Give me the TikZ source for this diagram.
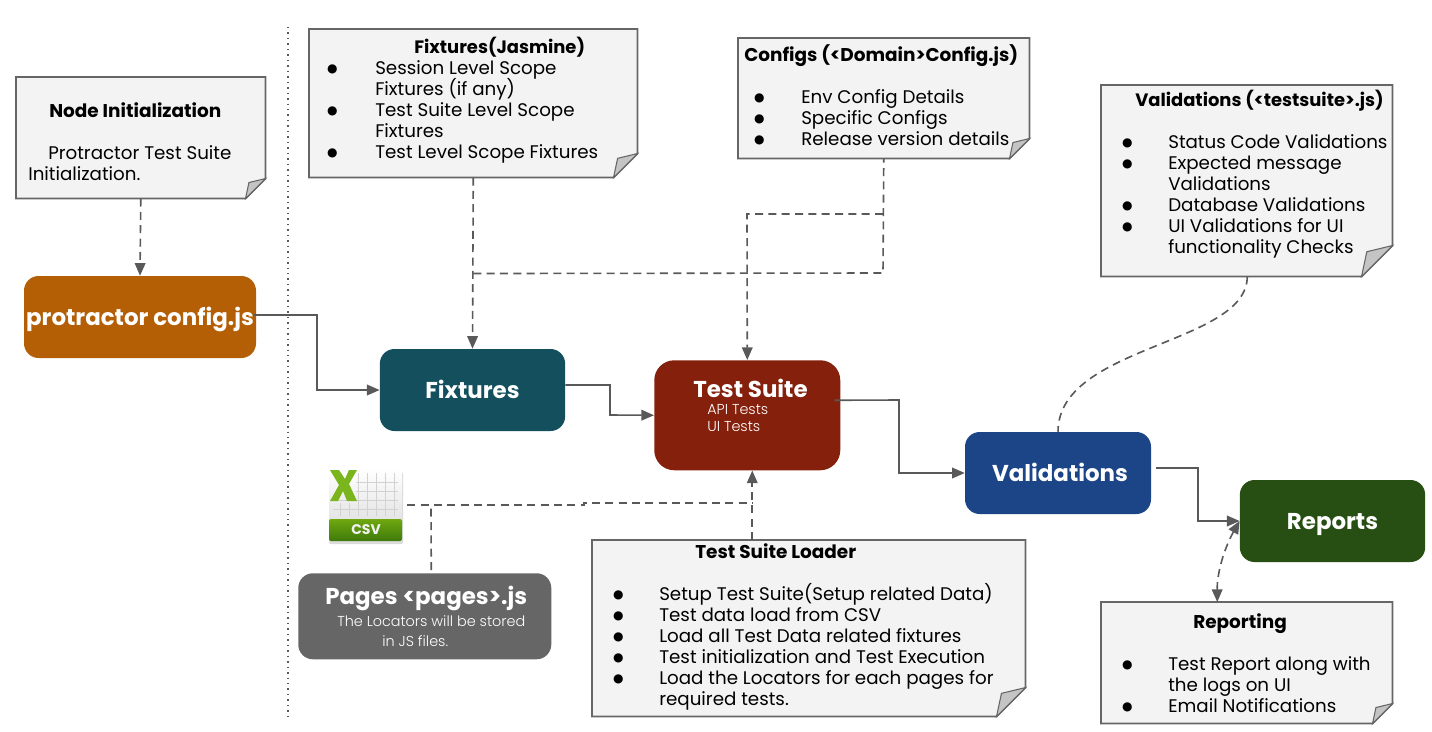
\documentclass[tikz,border=0pt]{standalone}
\usepackage{fontspec}
\setmainfont{Poppins}
\newfontfamily\lightf{Poppins}[UprightFont=* Light]
\newfontfamily\bulf{DejaVu Sans}
\usetikzlibrary{arrows.meta,backgrounds,calc}
\lineskiplimit=-100pt
\definecolor{linec}{HTML}{595959}
\definecolor{notef}{HTML}{F3F3F3}
\definecolor{notel}{HTML}{666666}
\definecolor{foldc}{HTML}{C4C4C4}
\definecolor{cproto}{HTML}{B45F06}
\definecolor{cfixt}{HTML}{134F5C}
\definecolor{cvali}{HTML}{1C4587}
\definecolor{crepo}{HTML}{274E13}
\definecolor{csuite}{HTML}{85200C}
\definecolor{cpages}{HTML}{666666}
\definecolor{xgreen}{HTML}{7AB51D}
\definecolor{bandtop}{HTML}{6FA80F}
\definecolor{bandbot}{HTML}{3E7A0C}
\newcommand\pxl[1]{\dimexpr #1pt*3/4\relax}
\newcommand\txl[2]{\makebox[0pt][l]{\hspace*{\pxl{#1}}#2}\par}
\newcommand\ttl{\fontsize{13.85}{15.75}\selectfont\bfseries}
\newcommand\ttls{\fontsize{13.45}{15.75}\selectfont\bfseries}
\newcommand\bul[3]{\makebox[0pt][l]{\hspace*{\pxl{#1}}\makebox[0pt][c]{\raisebox{1.2pt}{\bulf\fontsize{9}{10}\selectfont ●}}}\makebox[0pt][l]{\hspace*{\pxl{#2}}#3}\par}
\newcommand\blankl{\mbox{}\par}
% name, x, y, w, h, fold, first baseline offset, content
\newcommand\notebox[8]{%
  \node[notetext] (#1) at (#2,#3) {\begin{minipage}[t][\pxl{#5}][t]{\pxl{#4}}\rule{0pt}{\pxl{#7}}\makebox[0pt]{}#8\end{minipage}};
  \begin{pgfonlayer}{background}
    \draw[noteline,fill=notef] (#1.north west) -- (#1.north east) -- ($(#1.south east)+(0,-#6)$) -- ($(#1.south east)+(-#6,0)$) -- (#1.south west) -- cycle;
    \draw[noteline,line width=.8pt,fill=foldc] ($(#1.south east)+(0,-#6)$) .. controls ($(#1.south east)+(-.4*#6,-.92*#6)$) .. ($(#1.south east)+(-.83*#6,-.8*#6)$) .. controls ($(#1.south east)+(-.9*#6,-.4*#6)$) .. ($(#1.south east)+(-#6,0)$) -- cycle;
  \end{pgfonlayer}}
\tikzset{
  x=.75pt,y=-.75pt,
  notetext/.style={anchor=north west,inner sep=0pt,text=black,font=\fontsize{13.7}{15.75}\selectfont},
  noteline/.style={draw=notel,line width=1.3pt,line join=miter},
  rbox/.style={rounded corners=11pt,inner sep=0pt,text=white,font=\fontsize{17.2}{20}\selectfont\bfseries},
  rsingle/.style={rbox,minimum height=61.5pt,text height=12pt,text depth=0pt},
  flow/.style={draw=linec,line width=1.2pt,-{Triangle[length=9.5pt,width=8pt]}},
  dashln/.style={draw=linec,line width=1.2pt,dash pattern=on 6pt off 4pt},
  dasharrow/.style={dashln,-{Triangle[length=9.5pt,width=8pt]}}
}
\begin{document}
\begin{tikzpicture}
\useasboundingbox (0,0) rectangle (1432,732);
\begin{pgfonlayer}{background}
\fill[white] (0,0) rectangle (1432,732);
\end{pgfonlayer}
\draw[linec,line width=1.1pt,dash pattern=on 1.1pt off 3pt] (288,27) -- (288,716);

\notebox{ninit}{16}{77}{249}{121}{20}{40}{\txl{33}{\ttl Node Initialization}\blankl\txl{32}{Protractor Test Suite}\txl{12}{Initialization.}}
\notebox{fixnote}{309}{29}{328}{148}{24}{24}{\txl{105}{\ttls Fixtures(Jasmine)}\bul{23}{66}{Session Level Scope}\vspace{\dimexpr-2pt*3/4\relax}\txl{66}{Fixtures (if any)}\bul{23}{66}{Test Suite Level Scope}\txl{66}{Fixtures}\bul{23}{66}{Test Level Scope Fixtures}}
\notebox{confnote}{738}{38}{291}{120}{20}{23}{\txl{6}{\ttl Configs (<Domain>Config.js)}\blankl\bul{21}{63}{Env Config Details}\bul{21}{63}{Specific Configs}\bul{21}{63}{Release version details}}
\notebox{valnote}{1101}{85}{291}{191}{31}{21}{\txl{34}{\ttls Validations (<testsuite>.js)}\blankl\bul{26}{67}{Status Code Validations}\bul{26}{67}{Expected message}\txl{67}{Validations}\bul{26}{67}{Database Validations}\bul{26}{67}{UI Validations for UI}\txl{67}{functionality Checks}}
\notebox{loadnote}{592}{540}{433}{176}{29}{18}{\txl{103}{\ttl Test Suite Loader}\blankl\bul{26}{67}{Setup Test Suite(Setup related Data)}\bul{26}{67}{Test data load from CSV}\bul{26}{67}{Load all Test Data related fixtures}\bul{26}{67}{Test initialization and Test Execution}\bul{26}{67}{Load the Locators for each pages for}\txl{67}{required tests.}}
\notebox{repnote}{1101}{602}{291}{121}{20}{26}{\txl{92}{\ttl Reporting}\blankl\bul{26}{67}{Test Report along with}\txl{67}{the logs on UI}\bul{26}{67}{Email Notifications}}

\node[rsingle,fill=cproto,minimum width=174pt] (proto) at (140,317) {protractor config.js};
\node[rsingle,fill=cfixt,minimum width=139pt] (fixt) at (472.5,390) {Fixtures};
\node[rsingle,fill=cvali,minimum width=139.5pt] (vali) at (1058,473) {\hspace*{3pt}Validations};
\node[rsingle,fill=crepo,minimum width=139pt] (repo) at (1332.5,521) {Reports};
\node[rbox,fill=csuite,rounded corners=15pt,anchor=north west] (suite) at (654,360) {\begin{minipage}[t][\pxl{110}][t]{\pxl{186}}\rule{0pt}{\pxl{37}}\makebox[0pt][l]{\hspace*{\pxl{39}}Test Suite}\par\mdseries\lightf\fontsize{10.8}{12.8}\selectfont\txl{53}{API Tests}\txl{53}{UI Tests}\end{minipage}};
\node[rbox,fill=cpages,anchor=north west] (pages) at (298,573) {\begin{minipage}[t][\pxl{86}][t]{\pxl{253}}\rule{0pt}{\pxl{31}}\makebox[0pt][l]{\hspace*{\pxl{27}}Pages <pages>.js}\par\vspace{1.8pt}\mdseries\lightf\fontsize{10.8}{15}\selectfont\txl{39}{The Locators will be stored}\txl{84}{in JS files.}\end{minipage}};

% CSV icon
\node[inner sep=0pt,minimum width=54.75pt,minimum height=55.5pt] (csv) at (365.5,506) {};
\fill[black!14,rounded corners=1.5pt] (329,472) rectangle (403,544);
\shade[top color=white,bottom color=gray!22,rounded corners=1.5pt] (329,469) rectangle (402,522);
\foreach \gx in {358,367,376,385,394} \draw[gray!35,line width=.5pt] (\gx,473) -- (\gx,516);
\foreach \gx in {340,349} \draw[gray!35,line width=.5pt] (\gx,503) -- (\gx,516);
\foreach \gy in {482,491} \draw[gray!35,line width=.5pt] (356,\gy) -- (398,\gy);
\foreach \gy in {500,509} \draw[gray!35,line width=.5pt] (333,\gy) -- (398,\gy);
\shade[top color=bandtop,bottom color=bandbot,rounded corners=1.5pt] (329,519) rectangle (402,541);
\fill[xgreen] (330,470) -- (339,470) -- (345,479) -- (349,470) -- (357,470) -- (349,484) -- (357,501) -- (347,501) -- (343,491) -- (338,501) -- (330,501) -- (339,485) -- cycle;
\node[inner sep=0pt,text=white!90!gray,font=\fontsize{10.5}{12}\selectfont\bfseries] (csvlabel) at (366,530) {CSV};

% connectors
\draw[dasharrow] (ninit.south) -- (proto.north);
\draw[flow] ($(proto.east)+(-3,-2)$) -- (317,315) -- (317,390) -- (fixt.west);
\draw[flow] ($(fixt.east)+(0,-5)$) -- (610,385) -- (610,415) -- (suite.west);
\draw[flow] ($(suite.east)+(-6,-15)$) -- (899,400) -- (899,473) -- (vali.west);
\draw[flow] ($(vali.east)+(5,-5)$) -- (1198,468) -- (1198,521) -- (repo.west);
\draw[dasharrow] (fixnote.south) -- (fixt.north);
\draw[dashln] ($(fixnote.south)+(0,96)$) -- (883,273) -- (confnote.south);
\draw[dasharrow] (883,214) -- (747,214) -- (suite.north);
\draw[dasharrow] ($(loadnote.north)+(-56.5,0)$) -- ($(suite.south)+(5,0)$);
\draw[dashln] ($(csv.east)+(5,-1)$) -- (584,505) -- (584,503) -- (752,503);
\draw[dashln] ($(pages.north)+(6.5,-3)$) -- (431,505);
\draw[dashln] ($(valnote.south)+(.5,0)$) .. controls (1247,345) and (1058,345) .. (vali.north);
\draw[dashln,{Triangle[length=9.5pt,width=8pt]}-{Triangle[length=9.5pt,width=8pt]}] (repo.west) .. controls (1226,545) and (1217,570) .. ($(repnote.north)+(-29.5,0)$);
\end{tikzpicture}
\end{document}
